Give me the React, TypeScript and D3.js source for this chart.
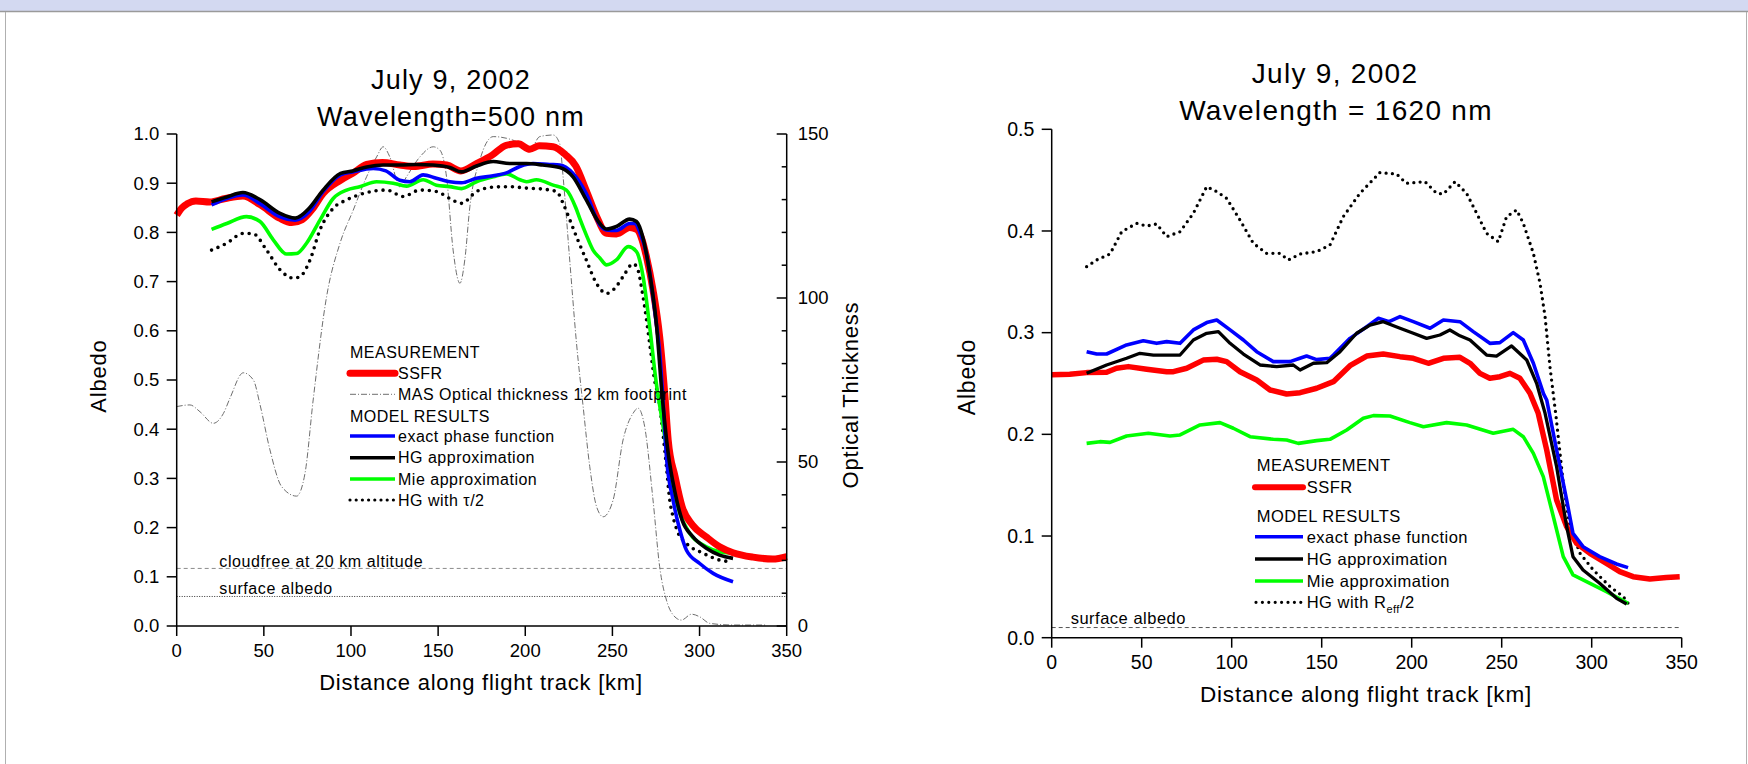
import React from 'react';
import * as d3 from 'd3';

type Pt = [number, number];

// ---- axis ticks ----
const distanceTicks = [0, 50, 100, 150, 200, 250, 300, 350];
const albedoTicks500 = [0, 0.1, 0.2, 0.3, 0.4, 0.5, 0.6, 0.7, 0.8, 0.9, 1.0];
const tauTicksMajor = [0, 50, 100, 150];
const tauTicksMinor = [10, 20, 30, 40, 60, 70, 80, 90, 110, 120, 130, 140];
const albedoTicks1620 = [0, 0.1, 0.2, 0.3, 0.4, 0.5];

// ---- 500 nm panel: [distance km, albedo] ----
const ssfr500: Pt[] = [
  [0, 0.835], [3, 0.85], [6, 0.858], [11, 0.864], [19, 0.862], [28, 0.869], [38, 0.874], [48, 0.856],
  [59, 0.829], [66, 0.82], [72, 0.826], [78, 0.848], [84, 0.879], [94, 0.906], [101, 0.92], [109, 0.938],
  [118, 0.942], [128, 0.937], [136, 0.934], [147, 0.939], [155, 0.937], [163, 0.925], [172, 0.94],
  [181, 0.957], [189, 0.977], [196, 0.98], [202.6, 0.969], [208, 0.976], [216, 0.974], [223, 0.958],
  [229, 0.935], [235, 0.885], [241, 0.832], [246.6, 0.798], [252.3, 0.797], [259.9, 0.81], [264, 0.806],
  [267, 0.785], [269.5, 0.751], [273.3, 0.683], [277.1, 0.588], [280, 0.473], [282, 0.378], [286, 0.303],
  [290, 0.2425], [296, 0.205], [303.9, 0.181], [311.5, 0.161], [319.2, 0.149], [330.7, 0.14], [342, 0.136],
  [350, 0.141],
];
const exact500: Pt[] = [
  [20, 0.856], [28.7, 0.869], [38, 0.876], [48, 0.858], [59, 0.832], [68, 0.825], [76, 0.842], [84, 0.883],
  [94, 0.917], [101, 0.923], [112.8, 0.93], [120, 0.925], [128, 0.906], [133.8, 0.903], [141.4, 0.917],
  [149, 0.91], [156.7, 0.903], [163.4, 0.901], [172, 0.91], [181.6, 0.915], [189.2, 0.921], [196.9, 0.934],
  [204.5, 0.94], [214, 0.938], [219.8, 0.937], [227.4, 0.92], [235, 0.879], [242.8, 0.815], [246.6, 0.805],
  [252.3, 0.804], [259.9, 0.818], [263, 0.818], [265.6, 0.801], [269.5, 0.757], [273.3, 0.669], [275, 0.62],
  [277, 0.56], [279, 0.46], [281, 0.344], [284.8, 0.256], [288.7, 0.195], [292.5, 0.154], [300.1, 0.127],
  [307.8, 0.107], [319.2, 0.09],
];
const hg500: Pt[] = [
  [20, 0.862], [28.7, 0.872], [38, 0.881], [48, 0.866], [59, 0.839], [68, 0.829], [76, 0.849], [84, 0.886],
  [94, 0.92], [101, 0.925], [109, 0.933], [118.5, 0.937], [128, 0.937], [137.6, 0.938], [147, 0.937],
  [156.7, 0.932], [163.4, 0.923], [172, 0.935], [181.6, 0.944], [191, 0.94], [200.7, 0.94], [210, 0.937],
  [219.8, 0.932], [227.4, 0.913], [235, 0.866], [242.8, 0.818], [246.6, 0.807], [252.3, 0.812],
  [259.9, 0.827], [263.8, 0.822], [267.6, 0.788], [271.4, 0.717], [275.2, 0.615], [278.5, 0.47],
  [282, 0.351], [286, 0.27], [290, 0.215], [296, 0.182], [303.9, 0.158], [311.5, 0.144], [319.2, 0.1375],
];
const mie500: Pt[] = [
  [20, 0.806], [28.7, 0.818], [40, 0.832], [47.8, 0.822], [55.4, 0.785], [63, 0.756], [68.8, 0.757],
  [74.5, 0.778], [82.2, 0.825], [89.8, 0.869], [97.5, 0.886], [105, 0.893], [114.7, 0.903], [124.2, 0.9],
  [131.9, 0.894], [141.4, 0.907], [149, 0.896], [156.7, 0.893], [163.4, 0.889], [172, 0.903], [181.6, 0.913],
  [189.2, 0.919], [196.9, 0.907], [200.7, 0.903], [206.4, 0.907], [216, 0.896], [223.6, 0.886], [229, 0.85],
  [231.3, 0.828], [235, 0.795], [238.9, 0.764], [242.8, 0.748], [246.6, 0.734], [252.3, 0.744], [259, 0.771],
  [263.8, 0.761], [267.6, 0.71], [271.4, 0.608], [275.2, 0.493], [277.5, 0.44], [281, 0.364], [284.8, 0.283],
  [288.7, 0.229], [294.4, 0.188], [303.9, 0.161], [311.5, 0.151], [321, 0.148],
];
const hgHalfTau500: Pt[] = [
  [20, 0.764], [28.7, 0.778], [38.2, 0.798], [44, 0.797], [51.6, 0.764], [59.3, 0.724], [66.9, 0.707],
  [70.7, 0.71], [76.5, 0.744], [82.2, 0.805], [89.8, 0.849], [97.5, 0.866], [107, 0.879], [120.4, 0.886],
  [130, 0.873], [139.5, 0.886], [149, 0.883], [156.7, 0.869], [163.4, 0.859], [172, 0.883], [181.6, 0.892],
  [191.1, 0.893], [200.7, 0.89], [210, 0.888], [217.9, 0.883], [221.7, 0.859], [224.5, 0.835],
  [229.4, 0.791], [235, 0.744], [240.9, 0.696], [246.6, 0.676], [251.3, 0.686], [256.1, 0.71],
  [261.8, 0.736], [264, 0.73], [267.6, 0.669], [271.4, 0.574], [274.2, 0.5], [276.7, 0.459], [279, 0.392],
  [281, 0.324], [282.9, 0.256], [284.8, 0.222], [287.6, 0.19], [292.4, 0.168], [302, 0.148],
  [311.5, 0.134], [317.2, 0.131],
];
// MAS optical thickness (right axis): [distance km, tau]
const masTau: Pt[] = [
  [0, 66.9], [7.6, 67.4], [13.4, 65.3], [21, 61.8], [26.8, 64.8], [30.6, 69.5], [38.2, 77.2], [44, 75],
  [47.8, 67.5], [53.5, 53.7], [60.2, 42.5], [68.8, 39.6], [73.6, 46.5], [78.3, 68.9], [86, 100.4],
  [93.7, 116.7], [101.3, 126.8], [109, 137], [114.7, 143], [118.5, 146.1], [122.3, 143], [128, 133.9],
  [131.9, 137], [139.5, 143], [147.2, 146.1], [151, 145.1], [154.8, 137], [158.6, 114.6], [162.5, 104.5],
  [165.3, 111.6], [168.2, 127.8], [173.9, 142], [181.6, 149.2], [189.2, 148.7], [196.9, 147.2],
  [202.6, 145.1], [208.3, 149.2], [216, 149.7], [219.8, 147], [221.7, 137], [225.5, 111.6], [229.4, 86.2],
  [233.2, 66.9], [237, 48.6], [240.9, 36.4], [244.7, 33.3], [250.4, 38.4], [256.1, 56.7], [261.8, 64.8],
  [264.7, 66.4], [268.5, 60.8], [273.3, 38.4], [277.1, 18.1], [281, 7.9], [284.8, 3.4], [289.6, 1.8],
  [295.4, 3.6], [300.1, 2.8], [305.9, 0.8], [319.2, 0.3], [338, 0.3],
];
const cloudfreeAlbedo500 = 0.117;
const surfaceAlbedo500 = 0.06;

// ---- 1620 nm panel: [distance km, albedo] ----
const ssfr1620: Pt[] = [
  [0, 0.2585], [10, 0.259], [19.4, 0.2607], [30.5, 0.261], [36, 0.265], [42.6, 0.2666], [52.8, 0.264],
  [63.9, 0.2616], [67.6, 0.2616], [75, 0.265], [84.2, 0.273], [91.7, 0.2738], [97.2, 0.2715], [104.6, 0.2616],
  [113.9, 0.2535], [121.3, 0.2436], [130.5, 0.2397], [138, 0.241], [147.2, 0.2453], [156.5, 0.2518],
  [165.7, 0.2675], [175, 0.277], [184.2, 0.279], [193.5, 0.2764], [200.9, 0.2748], [209.2, 0.2699],
  [217.6, 0.2748], [226.8, 0.2757], [232.4, 0.2699], [237.9, 0.26], [243.4, 0.2551], [249, 0.2567],
  [254.6, 0.26], [260.1, 0.2551], [265.7, 0.2404], [270.3, 0.2207], [275, 0.1846], [280.5, 0.1354],
  [286.1, 0.1092], [291.6, 0.0928], [299, 0.083], [308.2, 0.0731], [315.6, 0.065], [323, 0.06],
  [332.3, 0.0577], [341.5, 0.0593], [348.9, 0.06],
];
const exact1620: Pt[] = [
  [19.4, 0.2813], [25, 0.279], [30.5, 0.279], [41.6, 0.2879], [50.9, 0.2921], [58.3, 0.2895], [63.9, 0.2912],
  [71.3, 0.2895], [78.7, 0.3027], [86.1, 0.3099], [91.7, 0.3125], [99.1, 0.3027], [106.5, 0.2928],
  [113.9, 0.2813], [123.1, 0.2715], [132.4, 0.2715], [137.9, 0.2748], [141.6, 0.277], [147.2, 0.2735],
  [154.6, 0.2748], [156.5, 0.278], [165.7, 0.2944], [175, 0.3059], [181.5, 0.3141], [187.4, 0.3108],
  [193.5, 0.3158], [200.9, 0.3108], [210.2, 0.3043], [217.6, 0.3125], [226.8, 0.3108], [234.2, 0.301],
  [243.4, 0.2895], [249, 0.2902], [256.4, 0.3], [262, 0.2928], [267.6, 0.2699], [273.2, 0.24],
  [275, 0.2338], [280.5, 0.1846], [286.1, 0.1354], [289.6, 0.1026], [295.2, 0.0895], [304.4, 0.0797],
  [313.8, 0.0725], [320.2, 0.0689],
];
const hg1620: Pt[] = [
  [19.4, 0.26], [30.5, 0.2682], [41.6, 0.2748], [49, 0.2797], [56.5, 0.278], [63.9, 0.278], [71.3, 0.278],
  [78.7, 0.2928], [86.1, 0.2994], [92.6, 0.301], [99.1, 0.2895], [106.5, 0.279], [115.7, 0.2682],
  [125, 0.2666], [134.2, 0.2682], [138, 0.2633], [145.4, 0.2699], [152.8, 0.2705], [160.2, 0.2813],
  [169.4, 0.2994], [176.8, 0.3075], [184.2, 0.3108], [193.5, 0.3043], [200.9, 0.2994], [208.3, 0.2944],
  [215.7, 0.2977], [221.2, 0.3026], [226.8, 0.2969], [232.4, 0.2928], [241.6, 0.278], [247.1, 0.277],
  [255.5, 0.2869], [263.9, 0.2731], [269.4, 0.2502], [274.1, 0.2207], [280.5, 0.1682], [286.1, 0.1092],
  [289.6, 0.0797], [295.2, 0.0666], [304.4, 0.0535], [313.8, 0.0387], [319.4, 0.0331],
];
const mie1620: Pt[] = [
  [19.4, 0.1911], [26.8, 0.1928], [32.4, 0.1921], [41.6, 0.1984], [53.7, 0.201], [65.7, 0.1984],
  [71.3, 0.1994], [82.4, 0.2092], [93.5, 0.2115], [100.9, 0.206], [110.2, 0.1977], [123.1, 0.1951],
  [130.5, 0.1944], [137, 0.1911], [147.2, 0.1938], [154.6, 0.1951], [163.9, 0.2043], [173.1, 0.2158],
  [178.7, 0.2184], [187.9, 0.218], [199, 0.2115], [206.5, 0.2075], [219.4, 0.2115], [230.5, 0.2092],
  [245.3, 0.201], [256.4, 0.2049], [262, 0.1977], [267.6, 0.1813], [273.1, 0.1584], [278.7, 0.119],
  [284.2, 0.0797], [289.6, 0.0617], [297.1, 0.0551], [308.2, 0.0453], [320.2, 0.0338],
];
const hgHalfReff1620: Pt[] = [
  [19.4, 0.3649], [25, 0.3715], [32.4, 0.3774], [38.9, 0.3993], [47.2, 0.4075], [52.8, 0.4049],
  [58.3, 0.4069], [63.9, 0.3944], [71.3, 0.3993], [78.7, 0.4174], [86.1, 0.4436], [91.7, 0.4387],
  [97.2, 0.4321], [104.6, 0.4108], [112, 0.3879], [119.4, 0.378], [126.8, 0.378], [131.5, 0.3715],
  [138, 0.3774], [147.2, 0.3797], [154.6, 0.3862], [162, 0.4141], [171.2, 0.437], [182.3, 0.4574],
  [191.6, 0.456], [197, 0.4469], [207.4, 0.4485], [213.9, 0.437], [217.6, 0.4364], [224.1, 0.4485],
  [230.5, 0.437], [236.1, 0.4174], [241.6, 0.3977], [248.1, 0.3895], [252.7, 0.4141], [258.3, 0.4207],
  [262, 0.4075], [267.6, 0.378], [271.3, 0.3485], [274.1, 0.3157], [276.8, 0.2666], [280.2, 0.2174],
  [284.2, 0.1518], [287.9, 0.1092], [293.5, 0.083], [300.9, 0.0666], [310.2, 0.0502], [317.6, 0.0403],
  [320.2, 0.0338],
];
const surfaceAlbedo1620 = 0.01;

const FONT = "'Liberation Sans', Arial, Helvetica, sans-serif";
const RED = '#ff0000';
const BLUE = '#0000ff';
const GREEN = '#00ff00';

export default function App() {
  // left panel (500 nm)
  const xL = d3.scaleLinear().domain([0, 350]).range([176.7, 786.7]);
  const yL = d3.scaleLinear().domain([0, 1]).range([626, 134]);
  const tL = d3.scaleLinear().domain([0, 150]).range([626, 134]);
  // right panel (1620 nm)
  const xR = d3.scaleLinear().domain([0, 350]).range([1051.7, 1681.7]);
  const yR = d3.scaleLinear().domain([0, 0.5]).range([637.7, 129.3]);

  const lineL = d3.line<Pt>().x((d) => xL(d[0])).y((d) => yL(d[1])).curve(d3.curveMonotoneX);
  const lineTau = d3.line<Pt>().x((d) => xL(d[0])).y((d) => tL(d[1])).curve(d3.curveMonotoneX);
  const lineR = d3.line<Pt>().x((d) => xR(d[0])).y((d) => yR(d[1]));

  const fmt1 = d3.format('.1f');

  const legendLeft = [
    { y: 436, label: 'exact phase function', color: BLUE, w: 3.5, dash: undefined as string | undefined },
    { y: 457.7, label: 'HG approximation', color: '#000', w: 3.5, dash: undefined },
    { y: 479, label: 'Mie approximation', color: GREEN, w: 3.5, dash: undefined },
  ];
  const legendRight = [
    { y: 536.7, label: 'exact phase function', color: BLUE, w: 3.5 },
    { y: 559, label: 'HG approximation', color: '#000', w: 3.5 },
    { y: 581, label: 'Mie approximation', color: GREEN, w: 3.5 },
  ];

  return (
    <svg
      width={1748}
      height={764}
      viewBox="0 0 1748 764"
      style={{ position: 'absolute', left: 0, top: 0, background: '#fff' }}
      fontFamily={FONT}
    >
      {/* window frame */}
      <rect x={0} y={0} width={1748} height={764} fill="#fff" />
      <rect x={0} y={0} width={1748} height={11} fill="#d3d9f1" />
      <line x1={0} x2={1748} y1={11.5} y2={11.5} stroke="#9a9a9a" strokeWidth={1.5} />
      <line x1={5.5} x2={5.5} y1={12} y2={764} stroke="#b0b0b0" strokeWidth={1} />
      <line x1={1746.5} x2={1746.5} y1={12} y2={764} stroke="#b0b0b0" strokeWidth={1} />

      {/* ============ 500 nm panel ============ */}
      <g>
        <text x={451} y={89} fontSize={27} letterSpacing={1.2} textAnchor="middle">July 9, 2002</text>
        <text x={451} y={126} fontSize={27} letterSpacing={1.2} textAnchor="middle">Wavelength=500 nm</text>

        {/* reference levels */}
        <line x1={xL(0)} x2={xL(350)} y1={yL(cloudfreeAlbedo500)} y2={yL(cloudfreeAlbedo500)}
          stroke="#8c8c8c" strokeWidth={1} strokeDasharray="4 3" />
        <text x={219.3} y={566.7} fontSize={16} letterSpacing={0.6}>cloudfree at 20 km altitude</text>
        <line x1={xL(0)} x2={xL(350)} y1={yL(surfaceAlbedo500)} y2={yL(surfaceAlbedo500)}
          stroke="#333" strokeWidth={1} strokeDasharray="1 1.5" />
        <text x={219.3} y={594} fontSize={16} letterSpacing={0.6}>surface albedo</text>

        {/* MAS optical thickness */}
        <path d={lineTau(masTau) ?? ''} fill="none" stroke="#6e6e6e" strokeWidth={1} strokeDasharray="6 2 1 2" />

        {/* albedo curves */}
        <path d={lineL(hgHalfTau500) ?? ''} fill="none" stroke="#000" strokeWidth={3.6}
          strokeDasharray="0 7" strokeLinecap="round" />
        <path d={lineL(mie500) ?? ''} fill="none" stroke={GREEN} strokeWidth={3.6} />
        <path d={lineL(ssfr500) ?? ''} fill="none" stroke={RED} strokeWidth={7} strokeLinejoin="round" />
        <path d={lineL(exact500) ?? ''} fill="none" stroke={BLUE} strokeWidth={3.6} />
        <path d={lineL(hg500) ?? ''} fill="none" stroke="#000" strokeWidth={3.6} />

        {/* left axis */}
        <line x1={xL(0)} x2={xL(0)} y1={yL(0)} y2={yL(1)} stroke="#000" strokeWidth={1.5} />
        {albedoTicks500.map((t) => (
          <g key={'yl' + t}>
            <line x1={xL(0) - 10} x2={xL(0)} y1={yL(t)} y2={yL(t)} stroke="#000" strokeWidth={1.5} />
            <text x={xL(0) - 17.4} y={yL(t) + 6.4} fontSize={18.5} textAnchor="end">{fmt1(t)}</text>
          </g>
        ))}
        {/* bottom axis */}
        <line x1={xL(0)} x2={xL(350)} y1={yL(0)} y2={yL(0)} stroke="#000" strokeWidth={1.5} />
        {distanceTicks.map((t) => (
          <g key={'xl' + t}>
            <line x1={xL(t)} x2={xL(t)} y1={yL(0)} y2={yL(0) + 10} stroke="#000" strokeWidth={1.5} />
            <text x={xL(t)} y={656.7} fontSize={18.5} textAnchor="middle">{t}</text>
          </g>
        ))}
        {/* right axis: optical thickness */}
        <line x1={xL(350)} x2={xL(350)} y1={tL(0)} y2={tL(150)} stroke="#000" strokeWidth={1.5} />
        {tauTicksMajor.map((t) => (
          <g key={'tr' + t}>
            <line x1={xL(350) - 10} x2={xL(350)} y1={tL(t)} y2={tL(t)} stroke="#000" strokeWidth={1.5} />
            <text x={797.7} y={tL(t) + 6.4} fontSize={18.5}>{t}</text>
          </g>
        ))}
        {tauTicksMinor.map((t) => (
          <line key={'tm' + t} x1={xL(350) - 5} x2={xL(350)} y1={tL(t)} y2={tL(t)} stroke="#000" strokeWidth={1.5} />
        ))}

        <text transform="translate(106,376) rotate(-90)" fontSize={22} letterSpacing={0.8} textAnchor="middle">Albedo</text>
        <text transform="translate(858,395) rotate(-90)" fontSize={22} letterSpacing={0.8} textAnchor="middle">Optical Thickness</text>
        <text x={481} y={690} fontSize={22} letterSpacing={0.75} textAnchor="middle">Distance along flight track [km]</text>

        {/* legend */}
        <g fontSize={16} letterSpacing={0.5}>
          <text x={350} y={358}>MEASUREMENT</text>
          <line x1={350} x2={395} y1={373.3} y2={373.3} stroke={RED} strokeWidth={7} strokeLinecap="round" />
          <text x={398} y={379}>SSFR</text>
          <line x1={350} x2={395} y1={394.3} y2={394.3} stroke="#6e6e6e" strokeWidth={1} strokeDasharray="6 2 1 2" />
          <text x={398} y={400}>MAS Optical thickness 12 km footprint</text>
          <text x={350} y={421.7}>MODEL RESULTS</text>
          {legendLeft.map((e) => (
            <g key={e.label}>
              <line x1={350} x2={395} y1={e.y} y2={e.y} stroke={e.color} strokeWidth={e.w} />
              <text x={398} y={e.y + 5.6}>{e.label}</text>
            </g>
          ))}
          <line x1={350} x2={395} y1={500} y2={500} stroke="#000" strokeWidth={3.2}
            strokeDasharray="0 6.2" strokeLinecap="round" />
          <text x={398} y={505.6}>HG with τ/2</text>
        </g>
      </g>

      {/* ============ 1620 nm panel ============ */}
      <g>
        <text x={1335} y={83.3} fontSize={28} letterSpacing={1.3} textAnchor="middle">July 9, 2002</text>
        <text x={1336} y={120} fontSize={28} letterSpacing={1.3} textAnchor="middle">Wavelength = 1620 nm</text>

        <line x1={xR(0)} x2={xR(350)} y1={yR(surfaceAlbedo1620)} y2={yR(surfaceAlbedo1620)}
          stroke="#555" strokeWidth={1} strokeDasharray="4 3" />
        <text x={1070.7} y={624} fontSize={16.5} letterSpacing={0.5}>surface albedo</text>

        <path d={lineR(hgHalfReff1620) ?? ''} fill="none" stroke="#000" strokeWidth={3.3}
          strokeDasharray="0 6.3" strokeLinecap="round" />
        <path d={lineR(mie1620) ?? ''} fill="none" stroke={GREEN} strokeWidth={3.6} strokeLinejoin="round" />
        <path d={lineR(ssfr1620) ?? ''} fill="none" stroke={RED} strokeWidth={5.5} strokeLinejoin="round" />
        <path d={lineR(exact1620) ?? ''} fill="none" stroke={BLUE} strokeWidth={3.6} strokeLinejoin="round" />
        <path d={lineR(hg1620) ?? ''} fill="none" stroke="#000" strokeWidth={3.3} strokeLinejoin="round" />

        <line x1={xR(0)} x2={xR(0)} y1={yR(0)} y2={yR(0.5)} stroke="#000" strokeWidth={1.5} />
        {albedoTicks1620.map((t) => (
          <g key={'yr' + t}>
            <line x1={xR(0) - 10} x2={xR(0)} y1={yR(t)} y2={yR(t)} stroke="#000" strokeWidth={1.5} />
            <text x={xR(0) - 17.4} y={yR(t) + 6.8} fontSize={19.5} textAnchor="end">{fmt1(t)}</text>
          </g>
        ))}
        <line x1={xR(0)} x2={xR(350)} y1={yR(0)} y2={yR(0)} stroke="#000" strokeWidth={1.5} />
        {distanceTicks.map((t) => (
          <g key={'xr' + t}>
            <line x1={xR(t)} x2={xR(t)} y1={yR(0)} y2={yR(0) + 10} stroke="#000" strokeWidth={1.5} />
            <text x={xR(t)} y={669.3} fontSize={19.5} textAnchor="middle">{t}</text>
          </g>
        ))}

        <text transform="translate(975,377) rotate(-90)" fontSize={23} letterSpacing={0.8} textAnchor="middle">Albedo</text>
        <text x={1366} y={701.7} fontSize={22.5} letterSpacing={0.8} textAnchor="middle">Distance along flight track [km]</text>

        <g fontSize={16.5} letterSpacing={0.5}>
          <text x={1256.7} y={471}>MEASUREMENT</text>
          <line x1={1255} x2={1303} y1={487.3} y2={487.3} stroke={RED} strokeWidth={6} strokeLinecap="round" />
          <text x={1306.7} y={493}>SSFR</text>
          <text x={1256.7} y={522.3}>MODEL RESULTS</text>
          {legendRight.map((e) => (
            <g key={e.label}>
              <line x1={1255} x2={1303} y1={e.y} y2={e.y} stroke={e.color} strokeWidth={e.w} />
              <text x={1306.7} y={e.y + 5.8}>{e.label}</text>
            </g>
          ))}
          <line x1={1256} x2={1301} y1={602.3} y2={602.3} stroke="#000" strokeWidth={3.2}
            strokeDasharray="0 6.4" strokeLinecap="round" />
          <text x={1306.7} y={608}>
            HG with R<tspan fontSize={11} dy={5}>eff</tspan><tspan dy={-5}>/2</tspan>
          </text>
        </g>
      </g>
    </svg>
  );
}
